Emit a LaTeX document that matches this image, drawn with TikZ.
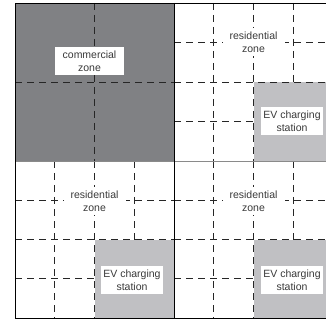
\documentclass[tikz,border=0pt]{standalone}
\usepackage{fontspec}
\setmainfont{Liberation Sans}
\definecolor{darkzone}{HTML}{808184}
\definecolor{evgray}{HTML}{C0C0C3}
\definecolor{txtgray}{HTML}{3A3A3A}
\definecolor{midline}{HTML}{8A8A8A}
\begin{document}
\begin{tikzpicture}[x=1pt,y=-1pt,
  grid/.style={line width=0.7pt, dash pattern=on 7pt off 5pt, color=black!85},
  border/.style={line width=0.9pt, black},
  lbl/.style={fill=white, font=\fontsize{10.5}{13}\selectfont, text=txtgray, align=center,
    inner xsep=1pt, inner ysep=2pt, minimum width=62pt, minimum height=28pt}]
\useasboundingbox (0,0) rectangle (326,320);
\begin{scope}
\clip (0,0) rectangle (326,320);
% fills
\fill[darkzone] (15,3) rectangle (174,161);
\fill[evgray] (253.5,82) rectangle (333,161);
\fill[evgray] (94.5,239.5) rectangle (174,318);
\fill[evgray] (253.5,239.5) rectangle (333,318);
% commercial zone grid
\draw[grid] (94.5,3) -- (94.5,161);
\draw[grid] (15,82) -- (174,82);
% top-right residential grid
\draw[grid] (213.75,3) -- (213.75,161);
\draw[grid] (253.5,3) -- (253.5,161);
\draw[grid] (293.25,3) -- (293.25,82);
\draw[grid] (174,42.5) -- (333,42.5);
\draw[grid] (174,82) -- (333,82);
\draw[grid] (174,121.5) -- (253.5,121.5);
% bottom-left residential grid
\draw[grid] (54.75,161) -- (54.75,318);
\draw[grid] (94.5,161) -- (94.5,318);
\draw[grid] (134.25,161) -- (134.25,239.5);
\draw[grid] (15,200.25) -- (174,200.25);
\draw[grid] (15,239.5) -- (174,239.5);
\draw[grid] (15,278.75) -- (94.5,278.75);
% bottom-right residential grid
\draw[grid] (213.75,161) -- (213.75,318);
\draw[grid] (253.5,161) -- (253.5,318);
\draw[grid] (293.25,161) -- (293.25,239.5);
\draw[grid] (174,200.25) -- (333,200.25);
\draw[grid] (174,239.5) -- (333,239.5);
\draw[grid] (174,278.75) -- (253.5,278.75);
% middle horizontal boundary
\draw[line width=0.8pt, midline] (15,161) -- (333,161);
% borders
\draw[border] (333,3) -- (15,3) -- (15,318) -- (333,318);
\draw[border] (174,3) -- (174,318);
% labels
\node[lbl, minimum width=69pt] (com) at (89.5,61) {commercial\\zone};
\node[lbl] (res1) at (253.5,42) {residential\\zone};
\node[lbl] (ev1) at (292,121) {EV charging\\station};
\node[lbl] (res2) at (94.5,201) {residential\\zone};
\node[lbl] (ev2) at (132,280) {EV charging\\station};
\node[lbl] (res3) at (253.5,201) {residential\\zone};
\node[lbl] (ev3) at (292,280) {EV charging\\station};
\end{scope}
\end{tikzpicture}
\end{document}
